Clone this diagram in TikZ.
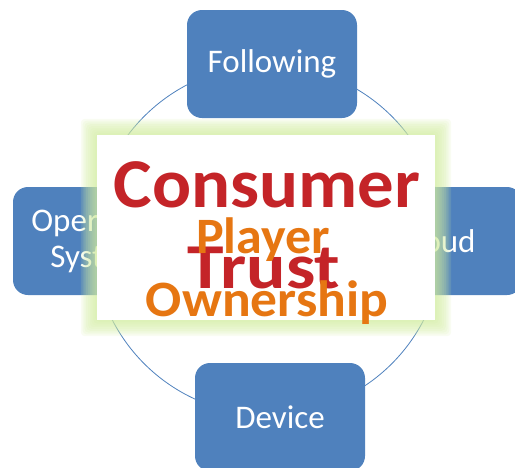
\documentclass[tikz,border=0pt]{standalone}
\usepackage{fontspec}
\setmainfont{Carlito}
\usepackage{tikz}
\usetikzlibrary{positioning}
\definecolor{boxblue}{RGB}{79,129,189}
\definecolor{glowgreen}{RGB}{210,236,160}
\definecolor{trustred}{RGB}{196,36,40}
\definecolor{ownorange}{RGB}{230,118,18}

\begin{document}
\begin{tikzpicture}[x=1pt,y=-1pt]
      \tikzset{topic/.style={rectangle, rounded corners=15pt, fill=boxblue, text=white,
          minimum width=170pt, minimum height=108pt, align=center,
          font=\fontsize{33}{36}\selectfont}}
      \tikzset{ring/.style={draw=boxblue, line width=0.8pt}}
      \tikzset{bigword/.style={anchor=base, transform shape, font=\bfseries\fontsize{#1}{#1}\selectfont}}
      \useasboundingbox (0,0) rectangle (515,467);
      % ring behind the four boxes
      \coordinate (hub) at (268,240);
      \draw[ring] (hub) circle (175pt);
      \node[topic] (following) at (272,64) {Following};
      \node[topic] (os) at (98,241) {Operating\\System};
      \node[topic] (cloud) at (437,241) {Cloud};
      \node[topic] (device) at (280,417) {Device};
      % soft green glow round the middle panel
      \foreach \g in {1,...,9}
        \fill[glowgreen, opacity=0.14, rounded corners=4pt]
          (97-1.8*\g,135-1.8*\g) rectangle (435+1.8*\g,320+1.8*\g);
      \node[fill=white, inner sep=0pt, minimum width=338pt, minimum height=185pt] (panel) at (266,227.5) {};
      \node[bigword=70, xscale=1.04, text=trustred] (consumer) at (267,207) {Consumer};
      \node[bigword=64, xscale=1.15, text=trustred] (trust) at (264,288) {Trust};
      \node[bigword=51, xscale=1.02, text=ownorange] (player) at (263,253) {Player};
      \node[bigword=51, xscale=1.05, text=ownorange] (ownership) at (267,316) {Ownership};
\end{tikzpicture}
\end{document}
